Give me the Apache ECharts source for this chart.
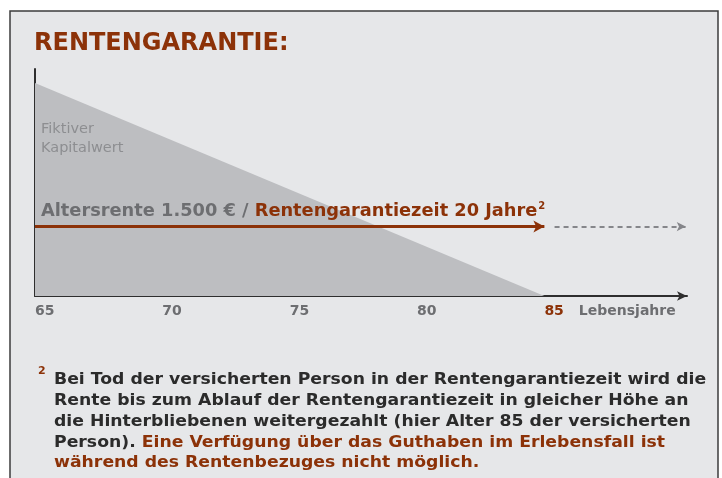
<!DOCTYPE html>
<html>
<head>
<meta charset="utf-8">
<script src="https://cdn.jsdelivr.net/npm/echarts@6/dist/echarts.min.js"></script>
<style>
html,body{margin:0;padding:0;background:#ffffff;}
#chart{width:722px;height:478px;}
</style>
</head>
<body>
<div id="chart"></div>
<script>
// ---- data ----
const tickAges = [65, 70, 75, 80, 85];
const tickLabels = ['65', '70', '75', '80', '85'];
const axisUnit = 'Lebensjahre';
const capitalAges = [65, 85];
const capitalValues = [100, 0];
const pensionLevel = 32.6;
const guaranteeStart = 65;
const guaranteeEnd = 85;
const afterStart = 85.4;
const afterEnd = 90.55;
const titleText = 'RENTENGARANTIE:';
const capitalLabel = ['Fiktiver', 'Kapitalwert'];
const pensionText = 'Altersrente 1.500 € / ';
const guaranteeText = 'Rentengarantiezeit 20 Jahre';
const footDark = ['Bei Tod der versicherten Person in der Rentengarantiezeit wird die',
  'Rente bis zum Ablauf der Rentengarantiezeit in gleicher Höhe an',
  'die Hinterbliebenen weitergezahlt (hier Alter 85 der versicherten',
  'Person). '];
const footRed = ['Eine Verfügung über das Guthaben im Erlebensfall ist',
  'während des Rentenbezuges nicht möglich.'];

const RED = '#8c3208';
const GREY = '#6d6e71';
const FONT = '"DejaVu Sans", sans-serif';

const chart = echarts.init(document.getElementById('chart'), null, {renderer: 'canvas'});

const capitalData = capitalAges.map((a, i) => [a, capitalValues[i]]);

const option = {
  animation: false,
  backgroundColor: 'transparent',
  textStyle: {fontFamily: FONT},
  grid: {left: 35, right: 35, top: 69, bottom: 182, containLabel: false},
  xAxis: {
    type: 'value', min: 65, max: 90.6, interval: 5,
    axisLine: {show: true, lineStyle: {color: '#2e2e2e', width: 2}, symbol: ['none', 'arrow'], symbolSize: [7, 10]},
    axisTick: {show: false},
    splitLine: {show: false},
    axisLabel: {
      align: 'left', margin: 8, fontFamily: FONT, fontSize: 14, fontWeight: 'bold', color: GREY,
      formatter: function (v) {
        const i = tickAges.indexOf(v);
        if (i < 0) return '';
        if (i === tickAges.length - 1) return '{r|' + tickLabels[i] + '}{g|' + axisUnit + '}';
        return tickLabels[i];
      },
      rich: {
        r: {color: RED, fontSize: 14, fontWeight: 'bold', fontFamily: FONT},
        g: {color: GREY, fontSize: 14, fontWeight: 'bold', fontFamily: FONT, padding: [0, 0, 0, 15]}
      }
    }
  },
  yAxis: {
    type: 'value', min: 0, max: 106.6,
    axisLine: {show: true, lineStyle: {color: '#2e2e2e', width: 2}},
    axisTick: {show: false}, axisLabel: {show: false}, splitLine: {show: false}
  },
  series: [
    {
      type: 'line', data: capitalData, symbol: 'none',
      lineStyle: {width: 0}, areaStyle: {color: '#bdbec1', opacity: 1}, z: 1
    },
    {
      type: 'line', data: [], z: 3,
      markLine: {
        silent: true, symbol: ['none', 'arrow'], symbolSize: [9, 11],
        label: {show: false},
        data: [
          [{coord: [guaranteeStart, pensionLevel], lineStyle: {color: RED, width: 3, type: 'solid'}},
           {coord: [guaranteeEnd, pensionLevel]}],
        ]
      }
    },
    {
      type: 'line', data: [], z: 3,
      markLine: {
        silent: true, symbol: ['none', 'arrow'], symbolSize: [7, 9],
        label: {show: false},
        lineStyle: {color: '#85868a', width: 2, type: [5, 4]},
        data: [
          [{coord: [afterStart, pensionLevel]}, {coord: [afterEnd, pensionLevel]}]
        ]
      }
    }
  ],
  graphic: [
    {type: 'rect', z: -10, silent: true, shape: {x: 10, y: 11, width: 708, height: 480},
     style: {fill: '#e6e7e9', stroke: '#3c3c3c', lineWidth: 1.5}},
    {type: 'text', x: 34, y: 32, z: 100, silent: true,
     style: {text: titleText, fill: RED, font: 'bold 24px ' + FONT}},
    {type: 'text', x: 41, y: 120, z: 100, silent: true,
     style: {text: capitalLabel.join('\n'), fill: '#8d8e91', font: '14.5px ' + FONT, lineHeight: 19}},
    {type: 'text', x: 41, y: 201, z: 100, silent: true,
     style: {
       text: '{g|' + pensionText + '}{r|' + guaranteeText + '}{s|2}',
       rich: {
         g: {fill: GREY, font: 'bold 17.8px ' + FONT},
         r: {fill: RED, font: 'bold 17.8px ' + FONT},
         s: {fill: RED, font: 'bold 10px ' + FONT, verticalAlign: 'top', padding: [0, 0, 11, 1]}
       }
     }},
    {type: 'text', x: 38, y: 366, z: 100, silent: true,
     style: {text: '2', fill: RED, font: 'bold 11px ' + FONT}},
    {type: 'text', x: 54, y: 370, z: 100, silent: true, scaleX: 1.1,
     style: {
       text: footDark.slice(0, 3).map(t => '{d|' + t + '}').join('\n') + '\n{d|' + footDark[3] + '}{r|' + footRed[0] + '}\n{r|' + footRed[1] + '}',
       rich: {
         d: {fill: '#2b2b2b', font: 'bold 15.7px ' + FONT, lineHeight: 20.7},
         r: {fill: RED, font: 'bold 15.7px ' + FONT, lineHeight: 20.7}
       }
     }}
  ]
};
chart.setOption(option);
</script>
</body>
</html>
